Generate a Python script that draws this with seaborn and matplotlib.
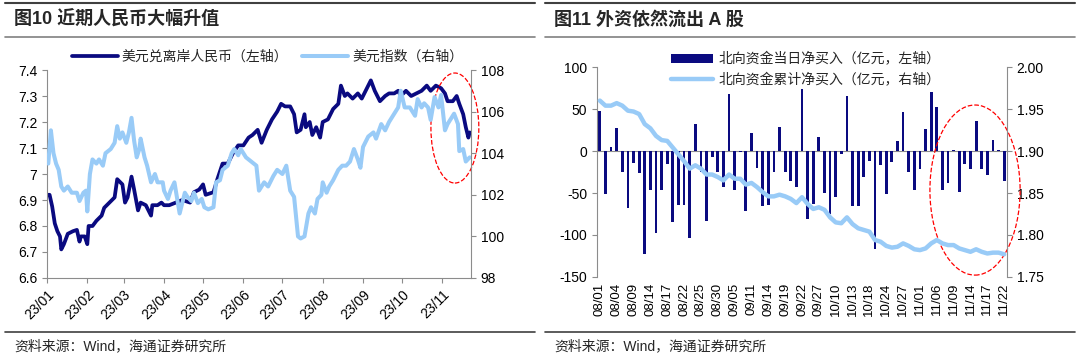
import pandas as pd
import numpy as np
import matplotlib
matplotlib.use('Agg')
import matplotlib.pyplot as plt
import matplotlib.dates as mdates
from matplotlib.ticker import FuncFormatter, MultipleLocator
from matplotlib.patches import Ellipse
from matplotlib.lines import Line2D
import seaborn as sns

# ---- Fig 10: USD/CNH (left axis) and US dollar index (right axis) ----
cnh_dates = ['2023-01-02', '2023-01-03', '2023-01-05', '2023-01-07', '2023-01-09', '2023-01-11',
             '2023-01-12', '2023-01-14', '2023-01-17', '2023-01-21', '2023-01-24', '2023-01-26',
             '2023-01-27', '2023-01-30', '2023-02-01', '2023-02-02', '2023-02-05', '2023-02-08',
             '2023-02-12', '2023-02-14', '2023-02-18', '2023-02-22', '2023-02-24', '2023-02-26',
             '2023-02-28', '2023-03-02', '2023-03-04', '2023-03-07', '2023-03-09', '2023-03-12',
             '2023-03-14', '2023-03-18', '2023-03-22', '2023-03-23', '2023-03-27', '2023-03-30',
             '2023-04-01', '2023-04-05', '2023-04-10', '2023-04-15', '2023-04-21', '2023-04-24',
             '2023-04-28', '2023-05-01', '2023-05-03', '2023-05-09', '2023-05-12', '2023-05-16',
             '2023-05-20', '2023-05-24', '2023-05-28', '2023-06-01', '2023-06-05', '2023-06-08',
             '2023-06-12', '2023-06-15', '2023-06-19', '2023-06-23', '2023-06-27', '2023-06-30',
             '2023-07-03', '2023-07-07', '2023-07-10', '2023-07-12', '2023-07-15', '2023-07-18',
             '2023-07-19', '2023-07-22', '2023-07-24', '2023-07-27', '2023-07-30', '2023-08-01',
             '2023-08-05', '2023-08-09', '2023-08-13', '2023-08-15', '2023-08-18', '2023-08-20',
             '2023-08-24', '2023-08-28', '2023-08-31', '2023-09-03', '2023-09-07', '2023-09-10',
             '2023-09-14', '2023-09-18', '2023-09-21', '2023-09-25', '2023-09-28', '2023-09-30',
             '2023-10-04', '2023-10-08', '2023-10-12', '2023-10-16', '2023-10-20', '2023-10-23',
             '2023-10-27', '2023-10-31', '2023-11-03', '2023-11-05', '2023-11-09', '2023-11-12',
             '2023-11-14', '2023-11-17', '2023-11-19', '2023-11-21', '2023-11-22']
cnh_vals = [6.92, 6.92, 6.875, 6.81, 6.78, 6.76,
            6.71, 6.73, 6.77, 6.78, 6.785, 6.74,
            6.76, 6.76, 6.73, 6.80, 6.80, 6.82,
            6.84, 6.87, 6.89, 6.91, 6.98, 6.97,
            6.96, 6.89, 6.91, 6.99, 6.94, 6.86,
            6.89, 6.88, 6.84, 6.88, 6.88, 6.89,
            6.88, 6.88, 6.89, 6.90, 6.89, 6.93,
            6.94, 6.96, 6.92, 6.93, 6.98, 7.04,
            7.04, 7.08, 7.11, 7.11, 7.14, 7.15,
            7.17, 7.12, 7.17, 7.21, 7.24, 7.27,
            7.26, 7.26, 7.23, 7.16, 7.17, 7.23,
            7.18, 7.20, 7.15, 7.18, 7.14, 7.20,
            7.21, 7.25, 7.27, 7.34, 7.30, 7.31,
            7.29, 7.31, 7.29, 7.32, 7.36, 7.32,
            7.28, 7.30, 7.31, 7.31, 7.32, 7.30,
            7.32, 7.30, 7.31, 7.32, 7.34, 7.32,
            7.34, 7.33, 7.31, 7.28, 7.28, 7.30,
            7.27, 7.23, 7.18, 7.14, 7.16]

dxy_dates = ['2023-01-02', '2023-01-03', '2023-01-04', '2023-01-06', '2023-01-08', '2023-01-10',
             '2023-01-12', '2023-01-14', '2023-01-17', '2023-01-20', '2023-01-24', '2023-01-26',
             '2023-01-29', '2023-01-31', '2023-02-01', '2023-02-03', '2023-02-05', '2023-02-08',
             '2023-02-10', '2023-02-13', '2023-02-15', '2023-02-19', '2023-02-22', '2023-02-24',
             '2023-02-26', '2023-02-28', '2023-03-03', '2023-03-05', '2023-03-07', '2023-03-09',
             '2023-03-11', '2023-03-13', '2023-03-14', '2023-03-17', '2023-03-19', '2023-03-22',
             '2023-03-25', '2023-03-27', '2023-03-31', '2023-04-01', '2023-04-04', '2023-04-06',
             '2023-04-09', '2023-04-13', '2023-04-17', '2023-04-19', '2023-04-22', '2023-04-24',
             '2023-04-27', '2023-04-30', '2023-05-02', '2023-05-05', '2023-05-09', '2023-05-11',
             '2023-05-14', '2023-05-16', '2023-05-20', '2023-05-23', '2023-05-25', '2023-05-28',
             '2023-05-30', '2023-06-03', '2023-06-07', '2023-06-11', '2023-06-13', '2023-06-17',
             '2023-06-20', '2023-06-24', '2023-06-27', '2023-07-01', '2023-07-04', '2023-07-07',
             '2023-07-10', '2023-07-13', '2023-07-15', '2023-07-18', '2023-07-21', '2023-07-23',
             '2023-07-26', '2023-07-28', '2023-07-31', '2023-08-01', '2023-08-04', '2023-08-06',
             '2023-08-09', '2023-08-13', '2023-08-16', '2023-08-19', '2023-08-22', '2023-08-25',
             '2023-08-28', '2023-08-30', '2023-09-01', '2023-09-05', '2023-09-09', '2023-09-11',
             '2023-09-15', '2023-09-18', '2023-09-21', '2023-09-25', '2023-09-28', '2023-09-30',
             '2023-10-03', '2023-10-07', '2023-10-11', '2023-10-13', '2023-10-16', '2023-10-18',
             '2023-10-21', '2023-10-23', '2023-10-26', '2023-10-29', '2023-10-31', '2023-11-03',
             '2023-11-05', '2023-11-08', '2023-11-10', '2023-11-13', '2023-11-14', '2023-11-17',
             '2023-11-19', '2023-11-22']
dxy_vals = [103.5, 104.3, 105.1, 104.0, 103.5, 103.2,
            102.4, 102.2, 102.4, 102.1, 102.1, 101.7,
            102.1, 102.2, 101.2, 103.0, 103.7, 103.5,
            103.7, 103.4, 104.0, 104.2, 104.5, 105.3,
            104.7, 105.0, 104.5, 105.0, 105.7, 104.6,
            103.8, 104.2, 104.7, 103.8, 103.4, 102.6,
            103.0, 102.6, 102.6, 102.2, 101.8, 102.2,
            102.6, 101.1, 102.1, 101.9, 101.7, 102.1,
            101.6, 101.8, 101.4, 101.3, 101.4, 102.6,
            102.7, 103.2, 103.4, 104.0, 104.2, 103.9,
            104.2, 103.8, 103.6, 103.4, 102.2, 102.6,
            102.4, 102.9, 103.2, 103.0, 103.4, 102.2,
            101.9, 100.0, 99.9, 100.0, 101.1, 101.4,
            101.1, 101.8, 102.0, 102.6, 102.1, 102.4,
            102.7, 103.2, 103.4, 103.4, 103.6, 104.2,
            103.7, 103.3, 104.3, 104.8, 105.0, 104.7,
            105.4, 105.1, 105.5, 105.9, 106.2, 107.0,
            106.2, 106.2, 105.8, 106.6, 106.2, 106.4,
            106.2, 105.6, 106.7, 106.2, 106.8, 105.1,
            105.4, 105.7, 105.9, 105.4, 104.1, 104.2,
            103.6, 103.8]

# ---- Fig 11: northbound flows ----
nb_days = ['08/01', '08/02', '08/03', '08/04', '08/07', '08/08', '08/09', '08/10', '08/11', '08/14',
           '08/15', '08/16', '08/17', '08/18', '08/21', '08/22', '08/23', '08/24', '08/25', '08/28',
           '08/29', '08/30', '08/31', '09/04', '09/05', '09/06', '09/07', '09/11', '09/12', '09/13',
           '09/14', '09/15', '09/18', '09/19', '09/20', '09/21', '09/22', '09/25', '09/26', '09/27',
           '09/28', '10/09', '10/10', '10/11', '10/12', '10/13', '10/16', '10/17', '10/18', '10/19',
           '10/20', '10/24', '10/25', '10/26', '10/27', '10/30', '10/31', '11/01', '11/02', '11/03',
           '11/06', '11/07', '11/08', '11/09', '11/10', '11/13', '11/14', '11/15', '11/16', '11/17',
           '11/20', '11/21', '11/22']
nb_daily = [48, -51, 5, 27, -25, -68, -14, -26, -123, -47,
            -98, -46, -15, -85, -64, -64, -104, 32, -25, -83,
            -7, -25, -43, 68, -46, -1, -71, 22, -20, -66,
            -64, -25, 28, -25, -36, -43, 74, -81, -63, 17,
            -50, -75, -55, -4, 65, -65, -65, -31, -12, -117,
            -17, -51, -13, 12, 46, -25, -47, -21, 26, 70,
            52, -46, -38, 1, -49, -15, -21, 36, -22, -29,
            13, 1, -36]
nb_cum = [1.960, 1.954, 1.954, 1.957, 1.954, 1.948, 1.947, 1.944, 1.932, 1.927,
          1.918, 1.913, 1.912, 1.904, 1.896, 1.888, 1.879, 1.883, 1.879, 1.872,
          1.872, 1.869, 1.865, 1.872, 1.867, 1.867, 1.860, 1.862, 1.857, 1.851,
          1.846, 1.846, 1.848, 1.846, 1.843, 1.838, 1.845, 1.837, 1.831, 1.833,
          1.830, 1.821, 1.815, 1.814, 1.821, 1.813, 1.808, 1.806, 1.804, 1.794,
          1.792, 1.787, 1.785, 1.786, 1.790, 1.787, 1.783, 1.782, 1.784, 1.790,
          1.794, 1.790, 1.788, 1.788, 1.784, 1.782, 1.780, 1.783, 1.780, 1.778,
          1.779, 1.779, 1.777]

navy = '#0a0a80'
light = '#99cbf7'
grey = '#8c8c8c'

sns.set_style('ticks')
plt.rcParams['font.family'] = ['Liberation Sans', 'Noto Sans CJK SC']
plt.rcParams['axes.unicode_minus'] = False
plt.rcParams['axes.edgecolor'] = grey
plt.rcParams['xtick.color'] = grey
plt.rcParams['ytick.color'] = grey
plt.rcParams['xtick.labelcolor'] = 'black'
plt.rcParams['ytick.labelcolor'] = 'black'

fig = plt.figure(figsize=(10.8, 3.57), dpi=100)

# ---------- left chart ----------
ax1 = fig.add_axes([0.0435, 0.2213, 0.3926, 0.5826])
ax1r = ax1.twinx()
sns.lineplot(x=pd.to_datetime(cnh_dates), y=cnh_vals, ax=ax1, color=navy, lw=2.7,
             label='美元兑离岸人民币（左轴）', legend=False)
sns.lineplot(x=pd.to_datetime(dxy_dates), y=dxy_vals, ax=ax1r, color=light, lw=2.9,
             label='美元指数（右轴）', legend=False)
ax1.set_xlim(pd.Timestamp('2023-01-01'), pd.Timestamp('2023-11-23'))
ax1.set_ylim(6.6, 7.4)
ax1.yaxis.set_major_locator(MultipleLocator(0.1))
ax1.yaxis.set_major_formatter(FuncFormatter(lambda v, p: f'{round(v, 1):g}'))
ax1r.set_ylim(98, 108)
ax1r.yaxis.set_major_locator(MultipleLocator(2))
ax1.xaxis.set_major_locator(mdates.MonthLocator())
ax1.xaxis.set_major_formatter(mdates.DateFormatter('%y/%m'))
for lab in ax1.get_xticklabels():
    lab.set_rotation(45)
    lab.set_ha('right')
    lab.set_rotation_mode('anchor')
ax1.tick_params(labelsize=10)
ax1r.tick_params(labelsize=10)
ax1.set_xlabel('')
ax1.set_ylabel('')
ax1r.set_ylabel('')
ax1.spines['top'].set_visible(False)
ax1.spines['right'].set_visible(False)
for s in ['top', 'left', 'bottom']:
    ax1r.spines[s].set_visible(False)
h1, l1 = ax1.get_legend_handles_labels()
h2, l2 = ax1r.get_legend_handles_labels()
ax1r.legend(h1 + h2, l1 + l2, loc='center', bbox_to_anchor=(0.52, 1.065), ncol=2,
            frameon=False, fontsize=10, handlelength=3.3, columnspacing=1.0,
            handletextpad=0.3)
ax1r.add_patch(Ellipse((0.962, 0.721), 0.113, 0.529, transform=ax1r.transAxes,
                       fill=False, ec='red', ls='--', lw=0.9, clip_on=False))

# ---------- right chart ----------
ax2 = fig.add_axes([0.5528, 0.2241, 0.3796, 0.5882])
ax2r = ax2.twinx()
sns.barplot(x=nb_days, y=nb_daily, ax=ax2, color=navy, saturation=1, width=0.5,
            linewidth=0, label='北向资金当日净买入（亿元，左轴）')
sns.lineplot(x=np.arange(len(nb_days)), y=nb_cum, ax=ax2r, color=light, lw=3.2,
             label='北向资金累计净买入（亿元，右轴）', legend=False)
ax2.set_xlim(-0.5, len(nb_days) - 0.5)
ax2.set_ylim(-150, 100)
ax2.yaxis.set_major_locator(MultipleLocator(50))
ax2r.set_ylim(1.75, 2.00)
ax2r.yaxis.set_major_locator(MultipleLocator(0.05))
ax2r.yaxis.set_major_formatter(FuncFormatter(lambda v, p: f'{v:.2f}'))
ax2.axhline(0, color=grey, lw=0.8, zorder=0)
ax2.set_xticks(range(0, len(nb_days), 3))
ax2.set_xticklabels(nb_days[::3], rotation=90)
ax2.tick_params(axis='x', length=0, labelsize=9.5, pad=4)
ax2.tick_params(axis='y', labelsize=10)
ax2r.tick_params(labelsize=10)
ax2.set_xlabel('')
ax2.set_ylabel('')
ax2r.set_ylabel('')
for s in ['top', 'right', 'bottom']:
    ax2.spines[s].set_visible(False)
for s in ['top', 'left', 'bottom']:
    ax2r.spines[s].set_visible(False)
if ax2.get_legend() is not None:
    ax2.get_legend().remove()
h1, l1 = ax2.get_legend_handles_labels()
h2, l2 = ax2r.get_legend_handles_labels()
ax2r.legend(h1 + h2, l1 + l2, loc='upper left', bbox_to_anchor=(0.15, 1.13), ncol=1,
            frameon=False, fontsize=10, handlelength=3.0, handletextpad=0.4,
            labelspacing=0.5)
ax2r.add_patch(Ellipse((0.922, 0.414), 0.22, 0.81, transform=ax2r.transAxes,
                       fill=False, ec='red', ls='--', lw=0.9, clip_on=False))

# ---------- titles, rules, sources ----------
H = 357.0
W = 1080.0
for x0, x1, title in [(5, 535, '图10 近期人民币大幅升值'), (545, 1075, '图11 外资依然流出 A 股')]:
    fig.add_artist(Line2D([x0 / W, x1 / W], [1 - 3 / H, 1 - 3 / H], color='#404040', lw=1.5))
    fig.add_artist(Line2D([x0 / W, x1 / W], [1 - 37 / H, 1 - 37 / H], color='#808080', lw=1.2))
    fig.add_artist(Line2D([x0 / W, x1 / W], [1 - 332 / H, 1 - 332 / H], color='#404040', lw=1.2))
    fig.text((x0 + 9) / W, 1 - 20 / H, title, fontsize=13, fontweight='bold', va='center')
    fig.text((x0 + 9) / W, 1 - 346 / H, '资料来源：Wind，海通证券研究所', fontsize=10, va='center')

fig.savefig('out.png', dpi=100)
